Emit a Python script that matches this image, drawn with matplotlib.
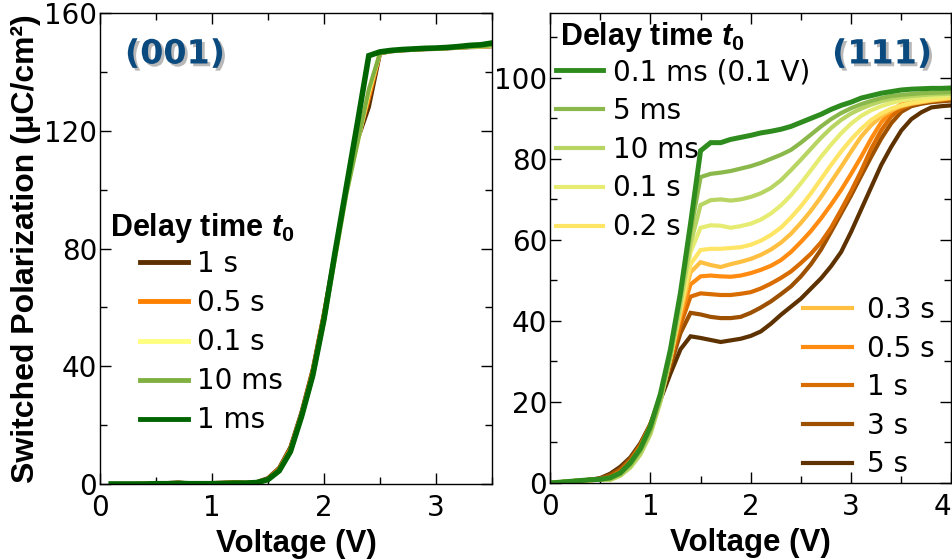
import numpy as np
import matplotlib
matplotlib.use("Agg")
import matplotlib.pyplot as plt
from matplotlib.ticker import MultipleLocator
import matplotlib.patheffects as pe

plt.rcParams['font.family'] = ['DejaVu Sans']
plt.rcParams['mathtext.fontset'] = 'custom'
plt.rcParams['mathtext.it'] = 'Liberation Sans:italic:bold'
plt.rcParams['mathtext.rm'] = 'Liberation Sans:bold'
plt.rcParams['mathtext.bf'] = 'Liberation Sans:bold'

# ---------------- (001) panel data ----------------
v001 = [0.1, 0.2, 0.3, 0.4, 0.5, 0.6, 0.7, 0.8, 0.9, 1.0, 1.1, 1.2, 1.3, 1.4, 1.5, 1.6, 1.7,
        1.8, 1.9, 2.0, 2.1, 2.2, 2.3, 2.4, 2.5, 2.6, 2.7, 2.8, 2.9, 3.0, 3.1, 3.2, 3.3, 3.4, 3.5]
labels001 = ["1 s", "0.5 s", "0.1 s", "10 ms", "1 ms"]
colors001 = ["#5c2e00", "#ff8000", "#ffff80", "#80b040", "#006400"]
p001_1s = [0, 0, 0, 0.1, 0.2, 0.3, 0.5, 0.2, 0.2, 0.3, 0.4, 0.6, 0.4, 0.6, 2.0, 5.5, 12.5,
           24.5, 39, 58, 79, 100, 117, 128, 146.3, 147, 147.3, 147.5, 147.7, 147.8, 148, 148.2, 148.4, 148.5, 148.7]
p001_05s = [0, 0, 0, 0.1, 0.2, 0.3, 0.4, 0.2, 0.2, 0.3, 0.4, 0.5, 0.4, 0.6, 1.8, 5.2, 12.0,
            24.0, 38.5, 57.5, 78.5, 100, 117, 131, 146.5, 147.1, 147.4, 147.6, 147.8, 147.9, 148.1, 148.3, 148.5, 148.6, 148.8]
p001_01s = [0, 0, 0, 0.1, 0.1, 0.2, 0.3, 0.2, 0.2, 0.2, 0.3, 0.4, 0.3, 0.5, 1.6, 4.8, 11.5,
            23.5, 37.5, 56.5, 77.5, 99, 116, 133, 146.5, 147.1, 147.4, 147.6, 147.8, 147.9, 148.1, 148.3, 148.5, 148.6, 148.8]
p001_10ms = [0, 0, 0, 0, 0.1, 0.2, 0.2, 0.1, 0.1, 0.2, 0.2, 0.3, 0.3, 0.4, 1.4, 4.5, 11.0,
             23.0, 36.5, 55.5, 77, 98.5, 116, 134, 146.4, 147, 147.4, 147.6, 147.8, 147.9, 148.1, 148.3, 148.5, 148.7, 149]
p001_1ms = [0, 0, 0, 0, 0.1, 0.1, 0.2, 0.1, 0.1, 0.1, 0.2, 0.3, 0.3, 0.5, 1.5, 4.5, 11.0,
            23.0, 37, 56, 79, 101, 123, 145.5, 146.8, 147.3, 147.6, 147.8, 148, 148.1, 148.3, 148.6, 149, 149.2, 149.8]
series001 = [p001_1s, p001_05s, p001_01s, p001_10ms, p001_1ms]

# ---------------- (111) panel data ----------------
v111 = [0.0, 0.1, 0.2, 0.3, 0.4, 0.5, 0.6, 0.7, 0.8, 0.9, 1.0, 1.1, 1.2, 1.3, 1.4, 1.5, 1.6, 1.7, 1.8, 1.9, 2.0,
        2.1, 2.2, 2.3, 2.4, 2.5, 2.6, 2.7, 2.8, 2.9, 3.0, 3.1, 3.2, 3.3, 3.4, 3.5, 3.6, 3.7, 3.8, 3.9, 4.0]
labels111 = ["0.1 ms (0.1 V)", "5 ms", "10 ms", "0.1 s", "0.2 s", "0.3 s", "0.5 s", "1 s", "3 s", "5 s"]
colors111 = ["#2e8b1e", "#8ab84a", "#b8d462", "#e6ec72", "#ffe566", "#ffbf40", "#ff8c10", "#d96c00", "#9c5000", "#5e3200"]
p111_01ms = [0, 0.2, 0.4, 0.6, 0.8, 0.9, 1.3, 2.5, 5.0, 8.5, 14, 22, 33, 47, 64, 82, 84, 84, 84.8, 85.3, 85.8,
             86.4, 86.8, 87.3, 88, 89, 90, 91, 92.2, 93.2, 94, 95, 95.6, 96.2, 96.6, 97, 97.2, 97.3, 97.4, 97.4, 97.5]
p111_5ms = [0, 0.2, 0.4, 0.6, 0.8, 0.9, 1.1, 2.2, 4.5, 8.0, 13, 21, 32, 46, 62, 75.5, 76.3, 76.6, 77, 77.6, 78.2,
            79, 80, 81, 82.2, 84, 86, 88, 89.8, 91.3, 92.5, 93.5, 94.3, 95, 95.5, 95.8, 96, 96.2, 96.3, 96.4, 96.5]
p111_10ms = [0, 0.2, 0.4, 0.6, 0.7, 0.8, 0.8, 1.8, 3.8, 7.0, 12, 20, 31, 44, 59, 68.6, 69.8, 70, 69.7, 70, 70.6,
             71.5, 72.8, 74.7, 77.2, 79.8, 82.5, 85.2, 87.6, 89.6, 91.2, 92.4, 93.4, 94.2, 94.8, 95.2, 95.5, 95.7, 95.9, 96, 96.1]
p111_01s = [0, 0.2, 0.4, 0.6, 0.7, 0.8, 0.8, 1.8, 4.0, 7.5, 12.5, 20.5, 31, 44, 57, 63, 63.6, 63.5, 63, 63.4, 64,
            65, 66.5, 68.5, 71, 74, 77.2, 80.5, 83.5, 86.3, 88.7, 90.6, 92, 93, 93.8, 94.4, 94.8, 95.1, 95.3, 95.5, 95.7]
p111_02s = [0, 0.2, 0.4, 0.6, 0.7, 0.8, 0.8, 2.0, 4.2, 7.8, 13, 21, 31, 43, 54, 57.5, 57.8, 57.8, 58, 58.2, 58.8,
            59.8, 61.2, 63, 65.5, 68.3, 71.5, 75, 78.5, 81.8, 84.8, 87.4, 89.6, 91.2, 92.4, 93.2, 93.8, 94.2, 94.6, 94.9, 95.2]
p111_03s = [0, 0.2, 0.4, 0.6, 0.7, 0.8, 1.0, 2.2, 4.5, 8.2, 13.5, 21, 31, 42, 52, 54.5, 53.8, 53.3, 54, 54.6, 55.3,
            56.3, 57.6, 59.3, 61.5, 64.2, 67.2, 70.6, 74.3, 78, 81.8, 85.5, 88.3, 90.5, 92, 93, 93.6, 94, 94.4, 94.7, 95]
p111_05s = [0, 0.2, 0.4, 0.6, 0.7, 0.9, 1.2, 2.5, 5.0, 8.8, 14, 21.5, 31, 41, 49, 51, 51.2, 51, 50.9, 51.2, 51.8,
            52.6, 53.6, 55, 57, 59.5, 62.2, 65.3, 68.7, 72.3, 76.3, 80.5, 85, 89, 91.8, 93.5, 94.2, 94.6, 94.9, 95.1, 95.3]
p111_1s = [0, 0.2, 0.4, 0.6, 0.8, 1.0, 1.5, 3.0, 5.5, 9.2, 14.5, 21.5, 30, 39, 46, 46.8, 46.6, 46.4, 46.4, 46.7, 47.1,
           48, 49.2, 50.6, 52.2, 54.3, 56.6, 59.4, 63, 67.4, 72, 77, 82.5, 87, 90.5, 92.5, 93.5, 94, 94.3, 94.6, 94.8]
p111_3s = [0, 0.2, 0.4, 0.6, 0.8, 1.1, 2.0, 3.5, 6.0, 9.5, 14.5, 21, 29, 37, 42, 41.6, 41, 40.7, 40.7, 41, 42,
           43.3, 44.8, 46.6, 48.5, 51, 54, 57.6, 62, 66.5, 71, 75.8, 80.5, 85, 88.8, 91.6, 93, 93.6, 94, 94.2, 94.4]
p111_5s = [0, 0.2, 0.4, 0.6, 0.8, 1.2, 2.3, 4.0, 6.3, 9.8, 14.5, 20.5, 27, 33, 36.2, 35.8, 35.3, 34.8, 35.2, 35.6, 36.3,
           37.4, 39.3, 41.5, 43.5, 45.5, 48, 50.5, 53.5, 57, 62, 67.5, 73, 78.5, 83, 87, 89.8, 91.5, 92.7, 93, 93.2]
series111 = [p111_01ms, p111_5ms, p111_10ms, p111_01s, p111_02s, p111_03s, p111_05s, p111_1s, p111_3s, p111_5s]

W, H = 953, 559
fig = plt.figure(figsize=(W / 100, H / 100), dpi=100)


def fx(px):
    return px / W


def fy(py):
    return 1 - py / H


ax1 = fig.add_axes([fx(100), fy(484), 392 / W, 471 / H])
ax2 = fig.add_axes([fx(550), fy(483), 401.5 / W, 470 / H])

# draw (001)
for vals, c, lab in zip(series001, colors001, labels001):
    lw = 4.0 if lab == "1 ms" else 3.0
    ax1.plot(v001, vals, color=c, lw=lw, solid_joinstyle='miter')

# draw (111) - reverse order so greens on top
for vals, c, lab in list(zip(series111, colors111, labels111))[::-1]:
    lw = 3.6 if lab.startswith("0.1 ms") else 3.0
    ax2.plot(v111, vals, color=c, lw=lw, solid_joinstyle='miter')

ax1.set_xlim(0, 3.5)
ax1.set_ylim(0, 160)
ax1.xaxis.set_major_locator(MultipleLocator(1))
ax1.xaxis.set_minor_locator(MultipleLocator(0.5))
ax1.yaxis.set_major_locator(MultipleLocator(40))
ax1.yaxis.set_minor_locator(MultipleLocator(20))

ax2.set_xlim(0, 4)
ax2.set_ylim(0, 116)
ax2.set_xticks([0, 1, 2, 3, 4])
ax2.xaxis.set_minor_locator(MultipleLocator(0.5))
ax2.yaxis.set_major_locator(MultipleLocator(20))
ax2.yaxis.set_minor_locator(MultipleLocator(10))

for ax in (ax1, ax2):
    ax.tick_params(which='both', direction='in', top=True, right=True, width=1.0, color='black')
    ax.tick_params(which='major', length=8, labelsize=20)
    ax.tick_params(which='minor', length=5)
    ax.tick_params(axis='x', pad=7)
    ax.tick_params(axis='y', pad=2)
    for s in ax.spines.values():
        s.set_linewidth(1.0)
    ax.set_xlabel("Voltage (V)", fontfamily='Liberation Sans', fontweight='bold', fontsize=22.5, labelpad=5)

ax2.get_xticklabels()[-1].set_horizontalalignment('right')

ax1.set_ylabel("Switched Polarization (μC/cm²)", fontfamily='Liberation Sans', fontweight='bold',
               fontsize=23, labelpad=2)

title_txt = r"Delay time $\mathit{t_0}$"
fig.text(fx(110), fy(228), title_txt, fontfamily='Liberation Sans', fontweight='bold', fontsize=22,
         ha='left', va='center')
fig.text(fx(560), fy(37), title_txt, fontfamily='Liberation Sans', fontweight='bold', fontsize=22,
         ha='left', va='center')

# legends
h1 = [plt.Line2D([], [], color=c, lw=3.5) for c in colors001]
leg1 = ax1.legend(h1, labels001, loc='upper left', bbox_to_anchor=(fx(140), fy(250)),
                  bbox_transform=fig.transFigure, frameon=False, fontsize=20, handlelength=1.73,
                  handletextpad=0.33, labelspacing=0.40, borderpad=0, borderaxespad=0)

h2 = [plt.Line2D([], [], color=c, lw=(3.5 if i == 0 else 3.0)) for i, c in enumerate(colors111)]
leg2 = ax2.legend(h2[:5], labels111[:5], loc='upper left', bbox_to_anchor=(fx(556), fy(58)),
                  bbox_transform=fig.transFigure, frameon=False, fontsize=20, handlelength=1.7,
                  handletextpad=0.36, labelspacing=0.39, borderpad=0, borderaxespad=0)
ax2.add_artist(leg2)
leg3 = ax2.legend(h2[5:], labels111[5:], loc='upper left', bbox_to_anchor=(fx(803), fy(296)),
                  bbox_transform=fig.transFigure, frameon=False, fontsize=20, handlelength=1.77,
                  handletextpad=0.52, labelspacing=0.38, borderpad=0, borderaxespad=0)

shadow = [pe.SimplePatchShadow(offset=(2, -2), shadow_rgbFace='#7f7f7f', alpha=0.55), pe.Normal()]
fig.text(fx(175), fy(54), "(001)", fontfamily='DejaVu Sans', fontweight='bold', fontsize=24,
         color='#0b4a7e', ha='center', va='center', path_effects=shadow)
fig.text(fx(882), fy(54), "(111)", fontfamily='DejaVu Sans', fontweight='bold', fontsize=24,
         color='#0b4a7e', ha='center', va='center', path_effects=shadow)

fig.savefig("out.png", dpi=100)
